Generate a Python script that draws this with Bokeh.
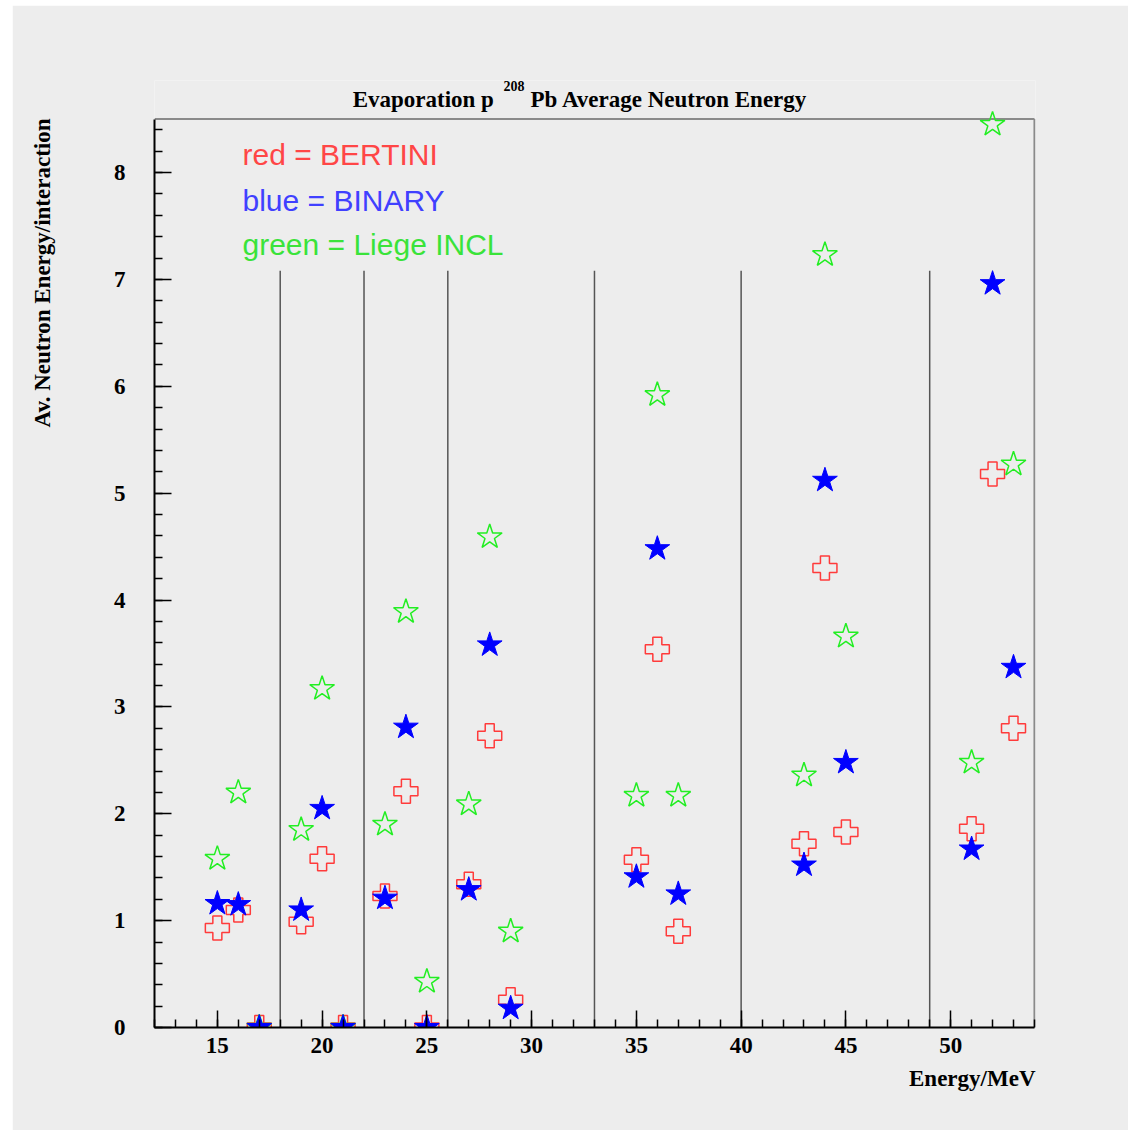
from bokeh.plotting import figure
from bokeh.models import SingleIntervalTicker, Label, Range1d, Title, Spacer
from bokeh.layouts import column, row
from bokeh.embed import file_html
from bokeh.resources import INLINE

# ---- data ----
energy = [15, 16, 17, 19, 20, 21, 23, 24, 25, 27, 28, 29,
          35, 36, 37, 43, 44, 45, 51, 52, 53]
bertini = [0.93, 1.10, 0.0, 0.99, 1.58, 0.0, 1.23, 2.21, 0.0, 1.34, 2.73, 0.26,
           1.57, 3.54, 0.90, 1.72, 4.30, 1.83, 1.86, 5.18, 2.80]
binary = [1.16, 1.15, 0.0, 1.10, 2.05, 0.0, 1.21, 2.81, 0.0, 1.29, 3.58, 0.18,
          1.41, 4.48, 1.25, 1.52, 5.12, 2.48, 1.67, 6.96, 3.37]
liege = [1.58, 2.20, 0.0, 1.85, 3.17, 0.0, 1.90, 3.89, 0.43, 2.09, 4.59, 0.90,
         2.17, 5.92, 2.17, 2.36, 7.23, 3.66, 2.48, 8.45, 5.27]
group_edges = [18, 22, 26, 33, 40, 49]
edge_top = 7.08
x_lim = (12, 54)
y_lim = (0, 8.5)

SERIF = "Liberation Serif"
SANS = "Liberation Sans"
BG = "#ededed"

p = figure(width=1116, height=1125, output_backend="svg", toolbar_location=None,
           title=None,
           x_range=Range1d(12, 54.05), y_range=Range1d(0, 8.861),
           min_border_left=142, min_border_right=93,
           min_border_top=75, min_border_bottom=103)

p.background_fill_color = BG
p.border_fill_color = BG
p.outline_line_color = None
p.grid.visible = False

p.xaxis.ticker = SingleIntervalTicker(interval=5, num_minor_ticks=5)
p.yaxis.ticker = SingleIntervalTicker(interval=1, num_minor_ticks=5)
p.xaxis.bounds = x_lim
p.yaxis.bounds = y_lim
for ax in (p.xaxis, p.yaxis):
    ax.axis_line_width = 2
    ax.axis_line_color = "black"
    ax.major_tick_in = 17
    ax.major_tick_out = 0
    ax.minor_tick_in = 8
    ax.minor_tick_out = 0
    ax.major_tick_line_width = 1.5
    ax.minor_tick_line_width = 1.5
    ax.major_tick_line_color = "black"
    ax.minor_tick_line_color = "black"
    ax.major_label_text_font = SERIF
    ax.major_label_text_font_style = "bold"
    ax.major_label_text_font_size = "23px"
    ax.major_label_text_color = "black"
p.xaxis.major_label_standoff = 10
p.yaxis.major_label_standoff = 29

# top and right frame lines
p.segment(x0=[x_lim[0], x_lim[1]], y0=[y_lim[1], y_lim[0]],
          x1=[x_lim[1], x_lim[1]], y1=[y_lim[1], y_lim[1]],
          line_color="#8a8a8a", line_width=2)

# group separator lines
p.segment(x0=group_edges, x1=group_edges, y0=[0] * len(group_edges),
          y1=[edge_top] * len(group_edges), line_color="#555555", line_width=1.5)

# markers
p.scatter(energy, bertini, marker="plus", size=24, fill_alpha=0,
          line_color="#ff3b3b", line_width=1.5)
p.scatter(energy, liege, marker="star", size=26, fill_alpha=0,
          line_color="#22ee22", line_width=1.5)
p.scatter(energy, binary, marker="star", size=26, fill_color="#0000ff",
          line_color="#0000ff", line_width=1)

# legend texts
for txt, col, yv in (("red = BERTINI", "#ff4646", 8.166),
                     ("blue = BINARY", "#4040ff", 7.740),
                     ("green = Liege INCL", "#3ae33a", 7.328)):
    p.add_layout(Label(x=16.2, y=yv, text=txt, text_color=col, text_font=SANS,
                       text_font_size="30px", text_baseline="alphabetic"))

# title (inside the extended frame area above the box)
tkw = dict(text_font=SERIF, text_font_style="bold", text_color="black",
           text_baseline="alphabetic")
p.add_layout(Label(x=28.2, y=8.68, text="Evaporation p", text_align="right",
                   text_font_size="23px", **tkw))
p.add_layout(Label(x=28.66, y=8.81, text="208", text_align="left",
                   text_font_size="14px", **tkw))
p.add_layout(Label(x=29.95, y=8.68, text="Pb Average Neutron Energy",
                   text_align="left", text_font_size="23px", **tkw))

# axis titles (an invisible spacer title pushes the y title outwards)
p.add_layout(Title(text=" ", text_font_size="1px", standoff=53), "left")
p.add_layout(Title(text="Av. Neutron Energy/interaction", align="right", offset=38,
                   standoff=0, text_font=SERIF, text_font_style="bold",
                   text_font_size="23px", text_color="black"), "left")
p.add_layout(Title(text="Energy/MeV", align="right", standoff=16,
                   text_font=SERIF, text_font_style="bold",
                   text_font_size="23px", text_color="black"), "below")

layout = column(Spacer(height=5), row(Spacer(width=12), p))
open("out.html", "w").write(file_html(layout, INLINE))
